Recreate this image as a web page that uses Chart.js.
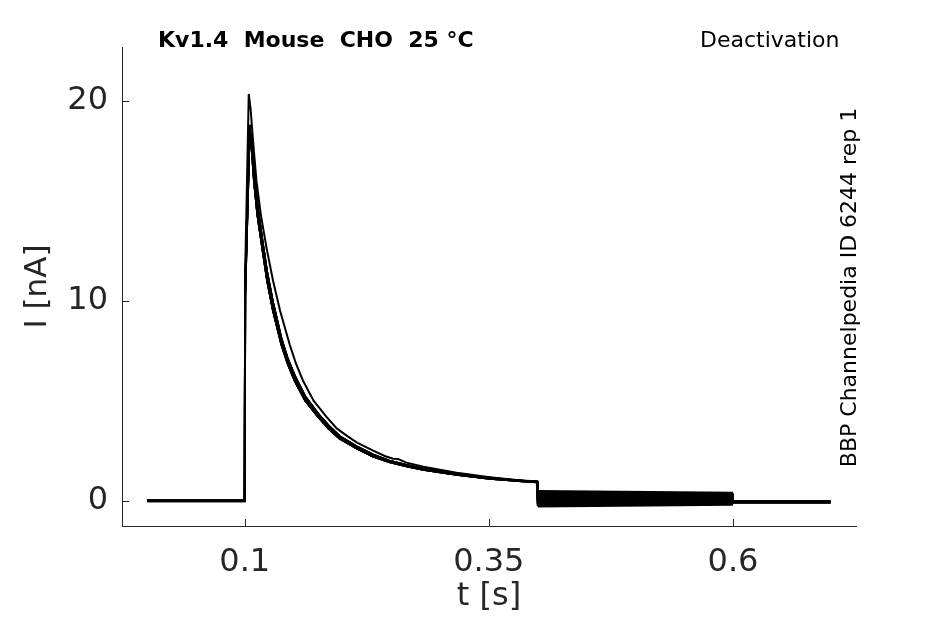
<!DOCTYPE html>
<html>
<head>
<meta charset="utf-8">
<script src="https://cdn.jsdelivr.net/npm/chart.js@4.4.0/dist/chart.umd.min.js"></script>
<style>
  html, body { margin: 0; padding: 0; background: #ffffff; }
  #wrap { width: 945px; height: 624px; position: relative; }
</style>
</head>
<body>
<div id="wrap"><canvas id="c" width="945" height="624"></canvas></div>
<script>
// ---- data ----
const xTicks = [0.1, 0.35, 0.6];
const yTicks = [0, 10, 20];

// first sweep (highest peak) during the 0.1-0.4 s step
const tFirst = [0.1, 0.1004, 0.1041, 0.1060, 0.1085, 0.1120, 0.1165, 0.1225, 0.1290, 0.1362, 0.1461, 0.1525, 0.1597, 0.1705, 0.1835, 0.1945, 0.2058, 0.2150, 0.2315, 0.2440, 0.2520, 0.2570, 0.2656, 0.2830, 0.2998, 0.3170, 0.3340, 0.3510, 0.3680, 0.3840, 0.3995];
const iFirst = [0, 11.3, 20.35, 19.6, 18.0, 16.0, 14.3, 12.6, 11.0, 9.5, 7.8, 6.85, 6.0, 5.0, 4.2, 3.6, 3.2, 2.9, 2.5, 2.22, 2.1, 2.08, 1.9, 1.7, 1.55, 1.40, 1.28, 1.17, 1.08, 1.01, 0.96];

// remaining sweeps during the 0.1-0.4 s step (two close variants)
const tMain = [0.1, 0.1004, 0.1050, 0.1070, 0.1095, 0.1130, 0.1181, 0.1230, 0.1290, 0.1376, 0.1440, 0.1512, 0.1620, 0.1750, 0.1860, 0.1973, 0.2150, 0.2315, 0.2480, 0.2656, 0.2830, 0.2998, 0.3170, 0.3340, 0.3510, 0.3680, 0.3840, 0.3995];
const iMainA = [0, 10.6, 18.8, 17.7, 16.0, 14.3, 12.6, 11.0, 9.5, 7.8, 6.85, 6.0, 5.0, 4.2, 3.6, 3.1, 2.6, 2.2, 1.93, 1.72, 1.55, 1.42, 1.30, 1.19, 1.10, 1.03, 0.97, 0.92];
const iMainB = [0, 10.2, 18.5, 17.9, 16.4, 14.8, 13.0, 11.4, 9.9, 8.1, 7.1, 6.25, 5.2, 4.35, 3.75, 3.22, 2.7, 2.3, 2.0, 1.78, 1.6, 1.47, 1.34, 1.23, 1.14, 1.06, 1.0, 0.95];

// per-sweep levels: holding before 0.1 s, tail at 0.4 s and 0.6 s, holding after 0.6 s
const sweepShape = ['first', 'A', 'B', 'A', 'B', 'A', 'B', 'A', 'B'];
const preLevel   = [0, 0, -0.03, 0, -0.02, 0, -0.03, 0, -0.02];
const tailStart  = [0.45, 0.36, 0.27, 0.18, 0.09, 0.0, -0.09, -0.18, -0.27];
const tailEnd    = [0.37, 0.30, 0.23, 0.16, 0.09, 0.02, -0.05, -0.12, -0.18];
const postLevel  = [-0.03, -0.05, -0.07, -0.04, -0.06, -0.09, -0.05, -0.08, -0.11];
const tStart = 0, tStepOff = 0.4, tTailOff = 0.6, tEnd = 0.7;

// ---- build datasets ----
const datasets = sweepShape.map((shape, k) => {
  const tt = shape === 'first' ? tFirst : tMain;
  const ii = shape === 'first' ? iFirst : (shape === 'A' ? iMainA : iMainB);
  const pts = [{x: tStart, y: preLevel[k]}];
  tt.forEach((t, j) => pts.push({x: t, y: j === 0 ? preLevel[k] : ii[j]}));
  pts.push({x: tStepOff, y: tailStart[k]});
  pts.push({x: tTailOff, y: tailEnd[k]});
  pts.push({x: tTailOff, y: postLevel[k]});
  pts.push({x: tEnd, y: postLevel[k]});
  return {
    data: pts,
    borderColor: '#000000',
    borderWidth: 2,
    pointRadius: 0,
    tension: 0,
    fill: false,
    segment: {
      borderWidth: c => (c.p0.parsed.x >= tStepOff && c.p1.parsed.x <= tTailOff && c.p0.parsed.x < c.p1.parsed.x) ? 3.2 : 2
    }
  };
});

const AXIS = '#262626';
const FONT = "'DejaVu Sans', sans-serif";

const inwardTicks = {
  id: 'inwardTicks',
  afterDraw(chart) {
    const ctx = chart.ctx;
    const xs = chart.scales.x, ys = chart.scales.y;
    const area = chart.chartArea;
    ctx.save();
    ctx.strokeStyle = AXIS;
    ctx.lineWidth = 1;
    ctx.beginPath();
    xs.ticks.forEach(t => {
      const px = Math.round(xs.getPixelForValue(t.value)) + 0.5;
      ctx.moveTo(px, area.bottom);
      ctx.lineTo(px, area.bottom - 7);
    });
    ys.ticks.forEach(t => {
      const py = Math.round(ys.getPixelForValue(t.value)) + 0.5;
      ctx.moveTo(area.left, py);
      ctx.lineTo(area.left + 7, py);
    });
    ctx.stroke();

    // texts
    ctx.fillStyle = '#000000';
    ctx.textBaseline = 'alphabetic';
    ctx.textAlign = 'left';
    ctx.font = "bold 22px " + FONT;
    ctx.fillText('Kv1.4  Mouse  CHO  25 °C', 158, 46.5);
    ctx.font = "22px " + FONT;
    ctx.fillText('Deactivation', 700, 46.5);
    ctx.translate(856, 287.5);
    ctx.rotate(-Math.PI / 2);
    ctx.textAlign = 'center';
    ctx.fillText('BBP Channelpedia ID 6244 rep 1', 0, 0);
    ctx.restore();
  }
};

new Chart(document.getElementById('c'), {
  type: 'line',
  data: { datasets },
  options: {
    responsive: false,
    animation: false,
    devicePixelRatio: 1,
    layout: { padding: { left: 0, top: 47, right: 89, bottom: 0 } },
    plugins: { legend: { display: false }, tooltip: { enabled: false }, title: { display: false } },
    scales: {
      x: {
        type: 'linear',
        min: -0.0257,
        max: 0.726,
        afterBuildTicks: s => { s.ticks = xTicks.map(v => ({ value: v })); },
        afterFit: s => { s.height = 98; },
        grid: { display: true, drawOnChartArea: false, drawTicks: false },
        border: { display: true, color: AXIS, width: 1 },
        ticks: { color: AXIS, font: { family: FONT, size: 32 }, padding: 17, maxRotation: 0,
                 callback: v => String(v) },
        title: { display: true, text: 't [s]', color: AXIS, font: { family: FONT, size: 32 }, padding: { top: 0, bottom: 8 } }
      },
      y: {
        type: 'linear',
        min: -1.27,
        max: 22.7,
        afterBuildTicks: s => { s.ticks = yTicks.map(v => ({ value: v })); },
        afterFit: s => { s.width = 122; },
        grid: { display: true, drawOnChartArea: false, drawTicks: false },
        border: { display: true, color: AXIS, width: 1 },
        ticks: { color: AXIS, font: { family: FONT, size: 32 }, padding: 14,
                 callback: v => String(v) },
        title: { display: true, text: 'I [nA]', color: AXIS, font: { family: FONT, size: 31 }, padding: { top: 19, bottom: 0 } }
      }
    }
  },
  plugins: [inwardTicks]
});
</script>
</body>
</html>
